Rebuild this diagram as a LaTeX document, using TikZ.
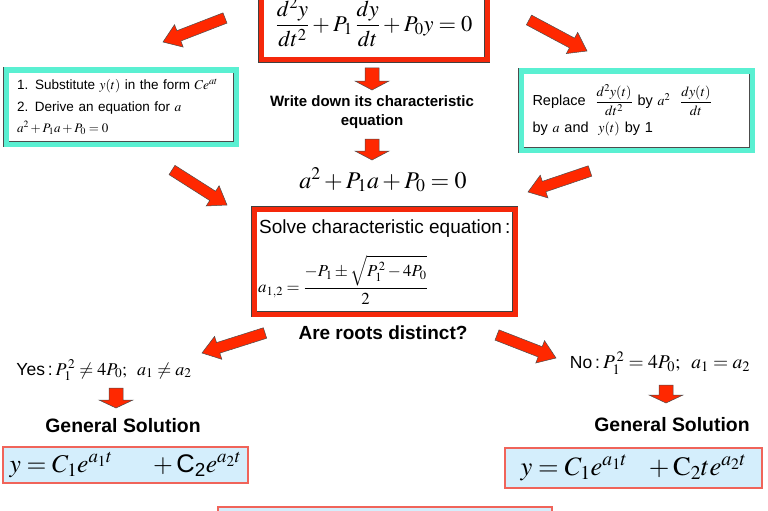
\documentclass[tikz,border=0pt]{standalone}
\usepackage{amsmath}
\usepackage{mathptmx}
\usepackage[no-math]{fontspec}
\setmainfont{Liberation Sans}
\usetikzlibrary{calc}

\definecolor{arrowred}{RGB}{255,40,0}
\definecolor{framered}{RGB}{245,40,10}
\definecolor{aqua}{RGB}{90,240,210}
\definecolor{solblue}{RGB}{212,238,252}
\definecolor{solred}{RGB}{240,100,90}

% fat arrow: shaft half width, head half width, head length, tail, tip
\newcommand{\fatarrow}[5]{%
  \coordinate (neck) at ($(#5)!#3!(#4)$);
  \filldraw[fatarrowstyle] ($(#4)!#1!90:(#5)$) -- ($(neck)!#1!90:(#5)$)
    -- ($(neck)!#2!90:(#5)$) -- (#5) -- ($(neck)!#2!-90:(#5)$)
    -- ($(neck)!#1!-90:(#5)$) -- ($(#4)!#1!-90:(#5)$) -- cycle;
}

\tikzset{
  fatarrowstyle/.style={fill=arrowred, draw=black!70, line width=0.5pt},
  redframe/.style={draw=black!75, line width=0.6pt, double=framered, double distance=5pt, fill=white},
  aquaframe/.style={draw=black!70, line width=0.6pt, double=aqua, double distance=5pt, fill=white},
  solbox/.style={draw=solred, line width=1.2pt, fill=solblue, inner sep=0pt},
  boldlabel/.style={font=\bfseries\fontsize{15}{18.5}\selectfont, align=center},
}

\begin{document}
\begin{tikzpicture}[x=1pt, y=-1pt]
\useasboundingbox (0,0) rectangle (768,511);
\clip (0,0) rectangle (768,511);

% the equation
\node[redframe, minimum width=226pt, minimum height=76pt, inner sep=0pt,
      font=\fontsize{22.5}{26}\selectfont] (ode) at (374,22)
  {\raisebox{-4pt}{$\dfrac{d^2y}{dt^2}+P_1\,\dfrac{dy}{dt}+P_0y=0$}};

% two ways to the characteristic equation
\node[aquaframe, minimum width=230pt, minimum height=74pt, text width=208pt,
      inner sep=0pt, align=left, font=\fontsize{13.5}{21.5}\selectfont] (lbox) at (121,107)
  {1. Substitute $y(t)$ in the form $Ce^{at}$\\
   2. Derive an equation for $a$\\
   {\fontsize{13}{14}\selectfont$a^2+P_1a+P_0=0$}};
\node[aquaframe, minimum width=231pt, minimum height=79pt, text width=208pt,
      inner sep=0pt, align=left, font=\fontsize{14.5}{27}\selectfont] (rbox) at (636.5,110.5)
  {Replace \ {\fontsize{14}{14}\selectfont$\dfrac{d^2y(t)}{dt^2}$} by {\fontsize{14}{14}\selectfont$a^2$} \
   {\fontsize{14}{14}\selectfont$\dfrac{dy(t)}{dt}$}\\
   by {\fontsize{14}{14}\selectfont$a$} and \ {\fontsize{14}{14}\selectfont$y(t)$} by 1};

\node[boldlabel] (write) at (372,112) {Write down its characteristic\\equation};
\node[font=\fontsize{24}{28}\selectfont] (chareq) at (383,180) {$a^2+P_1a+P_0=0$};

% solving it
\node[redframe, minimum width=261pt, minimum height=105pt, inner sep=0pt] (solve) at (384.5,261.5) {};
\node[anchor=west, inner sep=0pt, font=\fontsize{19}{22}\selectfont] (solvetext) at (259,229)
  {Solve characteristic equation\,:};
\node[anchor=west, inner sep=0pt, font=\fontsize{16.8}{20}\selectfont] (roots) at (258,280)
  {$a_{1,2}=\dfrac{-P_1\pm\sqrt{P_1^{\,2}-4P_0}}{2}$};

\node[boldlabel, font=\bfseries\fontsize{19}{22}\selectfont] (ask) at (383,333) {Are roots distinct?};

% the two cases
\node[font=\fontsize{17.5}{20}\selectfont] (yes) at (104,370)
  {Yes\,:\,{\fontsize{18}{20}\selectfont$P_1^{\,2}\neq4P_0;\;\;a_1\neq a_2$}};
\node[font=\fontsize{17.5}{20}\selectfont] (no) at (660,363)
  {No\,:\,{\fontsize{19.5}{22}\selectfont$P_1^{\,2}=4P_0;\;\;a_1=a_2$}};

\node[boldlabel, font=\bfseries\fontsize{19.4}{22}\selectfont] (genl) at (123,426) {General Solution};
\node[boldlabel, font=\bfseries\fontsize{19.4}{22}\selectfont] (genr) at (672,425) {General Solution};

\node[solbox, minimum width=245pt, minimum height=36pt, font=\fontsize{25.5}{28}\selectfont] (soll) at (125.5,465)
  {$y=C_1e^{a_1t}\quad\;\;+\text{C}_{\text{2}}e^{a_2t}$};
\node[solbox, minimum width=257pt, minimum height=40pt, font=\fontsize{26.5}{28}\selectfont] (solr) at (633.5,468)
  {$y=C_1e^{a_1t}\;\;\;+\mathrm{C}_2te^{a_2t}$};
\node[solbox, minimum width=334pt, minimum height=46pt] (nextbox) at (385,530) {};

% arrows
\coordinate (t1) at (225,18);  \coordinate (h1) at (163,42);
\coordinate (t2) at (529,20);  \coordinate (h2) at (587,51);
\coordinate (t3) at (172,170); \coordinate (h3) at (227,205);
\coordinate (t4) at (590,171); \coordinate (h4) at (528,192);
\coordinate (t5) at (265,333); \coordinate (h5) at (202,353);
\coordinate (t6) at (497,335); \coordinate (h6) at (556,358);
\fatarrow{5.5pt}{12pt}{17pt}{t1}{h1}
\fatarrow{5.5pt}{12pt}{17pt}{t2}{h2}
\fatarrow{5.5pt}{12pt}{17pt}{t3}{h3}
\fatarrow{5.5pt}{12pt}{17pt}{t4}{h4}
\fatarrow{5.5pt}{12pt}{17pt}{t5}{h5}
\fatarrow{5.5pt}{12pt}{17pt}{t6}{h6}

\coordinate (d1) at (372,68);  \coordinate (e1) at (372,90);
\coordinate (d2) at (372,139); \coordinate (e2) at (372,160);
\coordinate (d3) at (116,388); \coordinate (e3) at (116,408);
\coordinate (d4) at (666,385); \coordinate (e4) at (666,403);
\fatarrow{7pt}{17pt}{9pt}{d1}{e1}
\fatarrow{7pt}{17pt}{9pt}{d2}{e2}
\fatarrow{7pt}{17pt}{8pt}{d3}{e3}
\fatarrow{7pt}{17pt}{8pt}{d4}{e4}
\end{tikzpicture}
\end{document}
